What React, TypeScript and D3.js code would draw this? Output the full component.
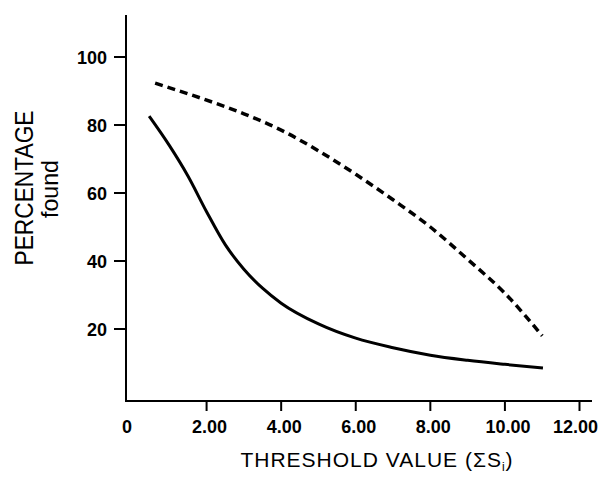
import React, { useRef, useEffect } from 'react'
import * as d3 from 'd3'

const solidX = [0.46, 1.0, 1.5, 2.0, 2.5, 3.0, 3.5, 4.0, 5.0, 6.0, 7.0, 8.0, 9.0, 10.0, 11.02]
const solidY = [82.6, 74.0, 65.0, 54.5, 44.8, 37.6, 32.0, 27.6, 21.5, 17.3, 14.5, 12.3, 10.8, 9.6, 8.5]
const dashX = [0.62, 1.82, 3.0, 4.0, 5.0, 6.0, 7.0, 8.0, 9.0, 10.0, 11.0]
const dashY = [92.3, 88.0, 83.3, 78.5, 72.4, 65.5, 58.0, 50.0, 40.5, 30.5, 18.0]
const xTicks = [0, 2, 4, 6, 8, 10, 12]
const yTicks = [20, 40, 60, 80, 100]

const width = 601
const height = 479

const App: React.FC = () => {
  const svgRef = useRef<SVGSVGElement>(null)

  useEffect(() => {
    if (!svgRef.current) return
    const svg = d3.select(svgRef.current)
    svg.selectAll('*').remove()

    const x = d3.scaleLinear().domain([0, 12]).range([132, 579.5])
    const y = d3.scaleLinear().domain([0, 100]).range([397, 57])

    const x0 = 126
    const y0 = 401

    // axes
    svg.append('line')
      .attr('x1', x0).attr('x2', x0).attr('y1', 15).attr('y2', y0)
      .attr('stroke', '#000').attr('stroke-width', 2)
    svg.append('line')
      .attr('x1', x0 - 1).attr('x2', 592).attr('y1', y0).attr('y2', y0)
      .attr('stroke', '#000').attr('stroke-width', 2)

    yTicks.forEach(t => {
      svg.append('line')
        .attr('x1', x0 - 12).attr('x2', x0).attr('y1', y(t)).attr('y2', y(t))
        .attr('stroke', '#000').attr('stroke-width', 2)
      svg.append('text')
        .attr('x', 107).attr('y', y(t) + 7)
        .attr('text-anchor', 'end')
        .attr('font-family', 'Arial, Liberation Sans, sans-serif')
        .attr('font-weight', 'bold').attr('font-size', 18)
        .text(String(t))
    })

    xTicks.forEach(t => {
      if (t > 0) {
        svg.append('line')
          .attr('x1', x(t)).attr('x2', x(t)).attr('y1', y0).attr('y2', y0 + 10)
          .attr('stroke', '#000').attr('stroke-width', 2)
      }
      const last = t === 12
      svg.append('text')
        .attr('x', t === 0 ? 127 : last ? 598 : x(t) + 3).attr('y', 433)
        .attr('text-anchor', last ? 'end' : 'middle')
        .attr('font-family', 'Arial, Liberation Sans, sans-serif')
        .attr('font-weight', 'bold').attr('font-size', 18)
        .text(t === 0 ? '0' : t.toFixed(2))
    })

    // titles
    const xt = svg.append('text')
      .attr('x', 377).attr('y', 467)
      .attr('text-anchor', 'middle')
      .attr('font-family', 'Arial, Liberation Sans, sans-serif')
      .attr('font-size', 21).attr('letter-spacing', 1)
    xt.append('tspan').text('THRESHOLD VALUE (ΣS')
    xt.append('tspan').attr('font-size', 12).attr('dy', 4).text('i')
    xt.append('tspan').attr('dy', -4).text(')')

    svg.append('text')
      .attr('transform', 'translate(33,188) rotate(-90)')
      .attr('text-anchor', 'middle')
      .attr('font-family', 'Arial, Liberation Sans, sans-serif')
      .attr('font-size', 26)
      .attr('textLength', 155).attr('lengthAdjust', 'spacingAndGlyphs')
      .text('PERCENTAGE')
    svg.append('text')
      .attr('transform', 'translate(58,189) rotate(-90)')
      .attr('text-anchor', 'middle')
      .attr('font-family', 'Arial, Liberation Sans, sans-serif')
      .attr('font-size', 24)
      .attr('textLength', 58).attr('lengthAdjust', 'spacingAndGlyphs')
      .text('found')

    const line = d3.line<[number, number]>()
      .x(d => x(d[0]))
      .y(d => y(d[1]))
      .curve(d3.curveMonotoneX)

    svg.append('path')
      .attr('d', line(solidX.map((v, i) => [v, solidY[i]] as [number, number])) || '')
      .attr('fill', 'none').attr('stroke', '#000').attr('stroke-width', 3)

    svg.append('path')
      .attr('d', line(dashX.map((v, i) => [v, dashY[i]] as [number, number])) || '')
      .attr('fill', 'none').attr('stroke', '#000').attr('stroke-width', 3.5)
      .attr('stroke-dasharray', '8,5')
  }, [])

  return (
    <svg
      ref={svgRef}
      width={width}
      height={height}
      style={{ position: 'absolute', left: 0, top: 0, background: '#fff' }}
    />
  )
}

export default App
